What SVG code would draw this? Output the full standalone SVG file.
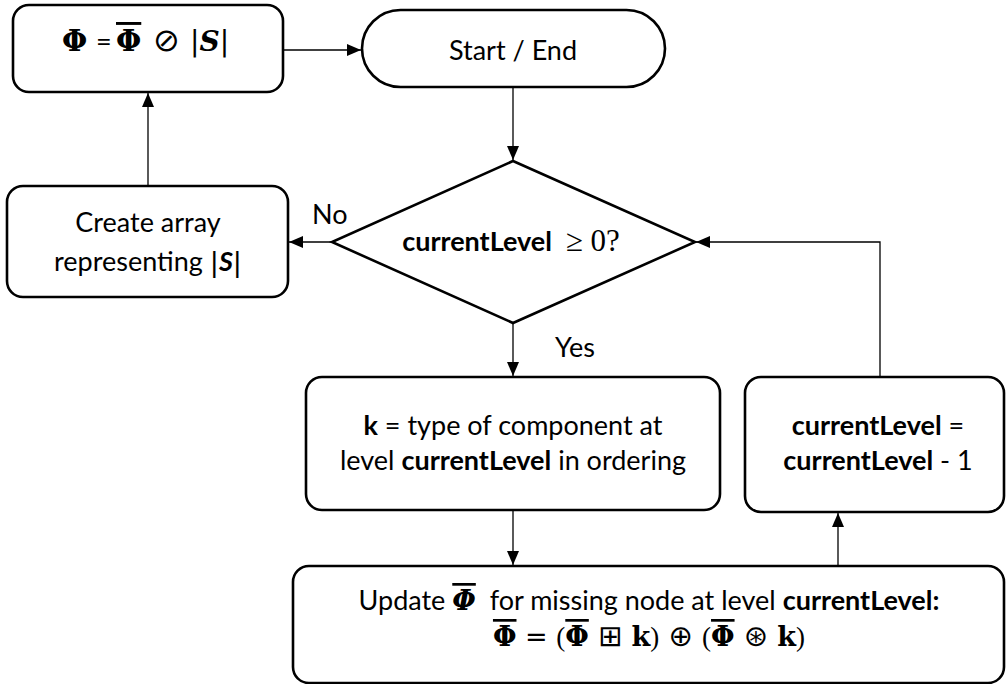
<svg xmlns="http://www.w3.org/2000/svg" width="1007" height="684" viewBox="0 0 1007 684">
<style>
.node{fill:#fff;stroke:#000;stroke-width:2.6}
.conn{fill:none;stroke:#000;stroke-width:1.3;marker-end:url(#arr)}
.t{font-family:Lato,"Liberation Sans",sans-serif;font-size:27px;fill:#000}
.b{font-weight:bold}
.m{font-family:"DejaVu Serif",serif;font-weight:bold}
.s{font-family:"DejaVu Sans",sans-serif;font-weight:normal}
.bar{text-decoration:overline}
</style>
<defs>
<marker id="arr" markerUnits="userSpaceOnUse" markerWidth="15" markerHeight="13" refX="14" refY="6" orient="auto">
<path d="M0,0 L14,6 L0,12 z" fill="#000"/>
</marker>
</defs>
<rect width="1007" height="684" fill="#fff"/>
<g id="connectors">
<path class="conn" d="M283,50 H361"/>
<path class="conn" d="M513,87 V160"/>
<path class="conn" d="M332,242 H289"/>
<path class="conn" d="M148,186 V93"/>
<path class="conn" d="M513,323 V376"/>
<path class="conn" d="M513,510 V565"/>
<path class="conn" d="M838,566 V513"/>
<path class="conn" d="M880,377 V242 H696"/>
<text class="t" x="312" y="224">No</text>
<text class="t" x="555" y="357">Yes</text>
</g>
<g id="node-phi">
<rect class="node" x="13" y="5" width="270" height="87" rx="16"/>
<text class="t" y="51"><tspan class="m" x="62" font-size="29">Φ</tspan><tspan x="96">=</tspan><tspan class="m bar" x="116" font-size="29">Φ</tspan><tspan class="s" x="153" font-size="32">⊘</tspan><tspan class="s" x="190" font-size="28">|</tspan><tspan class="m" font-style="italic" font-size="28">S</tspan><tspan class="s" font-size="28">|</tspan></text>
</g>
<g id="node-start">
<rect class="node" x="362" y="10" width="303" height="77" rx="38.5"/>
<text class="t" x="513" y="60" text-anchor="middle">Start / End</text>
</g>
<g id="node-decision">
<polygon class="node" points="513,161 695,242 513,323 332,242"/>
<text class="t" x="511" y="251" text-anchor="middle" xml:space="preserve"><tspan class="b">currentLevel</tspan>  <tspan font-family="'Liberation Serif',serif" font-size="31">≥ 0?</tspan></text>
</g>
<g id="node-create">
<rect class="node" x="7" y="186" width="281" height="111" rx="16"/>
<text class="t" x="148" y="232" text-anchor="middle">Create array</text>
<text class="t" x="148" y="271" text-anchor="middle">representing <tspan class="s">|</tspan><tspan class="b" font-style="italic">S</tspan><tspan class="s">|</tspan></text>
</g>
<g id="node-k">
<rect class="node" x="306" y="377" width="414" height="133" rx="16"/>
<text class="t" x="513" y="435" text-anchor="middle"><tspan class="b">k</tspan> = type of component at</text>
<text class="t" x="513" y="470" text-anchor="middle">level <tspan class="b">currentLevel</tspan> in ordering</text>
</g>
<g id="node-dec">
<rect class="node" x="745" y="377" width="259" height="135" rx="16"/>
<text class="t" x="878" y="435" text-anchor="middle"><tspan class="b">currentLevel</tspan> =</text>
<text class="t" x="878" y="470" text-anchor="middle"><tspan class="b">currentLevel</tspan> - 1</text>
</g>
<g id="node-update">
<rect class="node" x="293" y="566" width="711" height="117" rx="16"/>
<text class="t" x="649" y="610" text-anchor="middle" xml:space="preserve">Update <tspan class="m bar" font-style="italic" font-size="27">Φ</tspan>  for missing node at level <tspan class="b">currentLevel:</tspan></text>
<text class="t" x="649" y="646" text-anchor="middle" font-size="30" xml:space="preserve"><tspan class="m bar">Φ</tspan><tspan class="s" font-size="27"> = </tspan><tspan font-family="'Liberation Serif',serif">(</tspan><tspan class="m bar">Φ</tspan><tspan class="s" font-size="29"> ⊞ </tspan><tspan class="m">k</tspan><tspan font-family="'Liberation Serif',serif">)</tspan><tspan class="s" font-size="29"> ⊕ </tspan><tspan font-family="'Liberation Serif',serif">(</tspan><tspan class="m bar">Φ</tspan><tspan class="s" font-size="29"> ⊛ </tspan><tspan class="m">k</tspan><tspan font-family="'Liberation Serif',serif">)</tspan></text>
</g>
</svg>
